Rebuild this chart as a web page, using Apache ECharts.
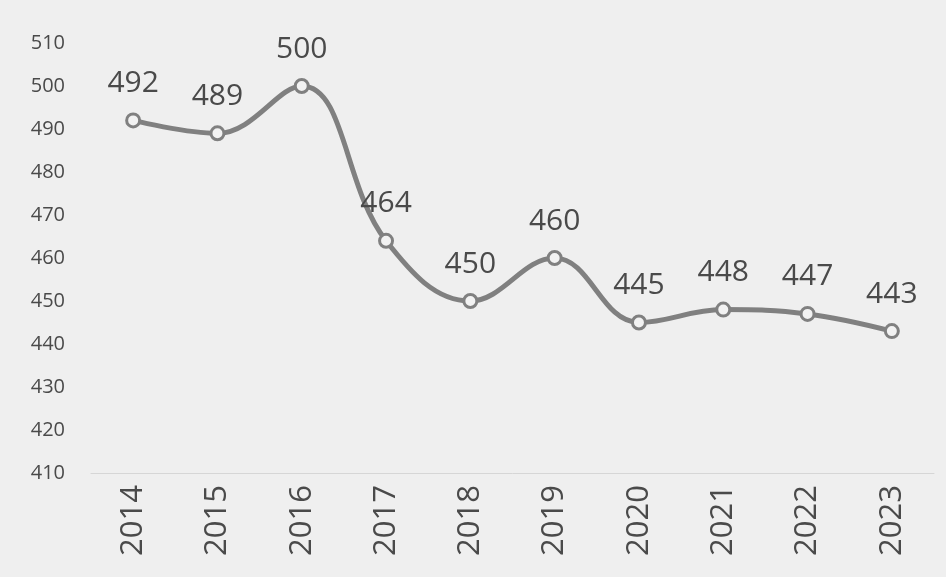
<!DOCTYPE html>
<html>
<head>
<meta charset="utf-8">
<script src="https://cdn.jsdelivr.net/npm/echarts@6/dist/echarts.min.js"></script>
<style>
  html, body { margin: 0; padding: 0; background: #efefef; }
  #main { width: 946px; height: 577px; }
</style>
</head>
<body>
<div id="main"></div>
<script>
var years = ['2014', '2015', '2016', '2017', '2018', '2019', '2020', '2021', '2022', '2023'];
var values = [492, 489, 500, 464, 450, 460, 445, 448, 447, 443];

var chart = echarts.init(document.getElementById('main'));

var option = {
  backgroundColor: '#efefef',
  grid: {
    left: 91,
    right: 12,
    top: 43,
    bottom: 104
  },
  xAxis: {
    type: 'category',
    data: years,
    boundaryGap: true,
    axisLine: { show: true, lineStyle: { color: '#d6d6d6', width: 1 } },
    axisTick: { show: false },
    axisLabel: {
      rotate: 90,
      margin: 12,
      fontSize: 31,
      color: '#4a4a4a',
      fontFamily: 'Open Sans'
    }
  },
  yAxis: {
    type: 'value',
    min: 410,
    max: 510,
    interval: 10,
    axisLine: { show: false },
    axisTick: { show: false },
    splitLine: { show: false },
    axisLabel: {
      fontSize: 20,
      color: '#4a4a4a',
      margin: 26,
      fontFamily: 'Open Sans'
    }
  },
  series: [{
    type: 'line',
    data: values,
    smooth: 0.4,
    symbol: 'circle',
    symbolSize: 13,
    lineStyle: { color: '#808080', width: 5 },
    itemStyle: { color: '#f2f2f2', borderColor: '#808080', borderWidth: 3 },
    label: {
      show: true,
      position: 'top',
      distance: 14,
      fontSize: 30,
      color: '#4a4a4a',
      fontFamily: 'Open Sans'
    }
  }]
};

chart.setOption(option);
window.onresize = chart.resize;
</script>
</body>
</html>
